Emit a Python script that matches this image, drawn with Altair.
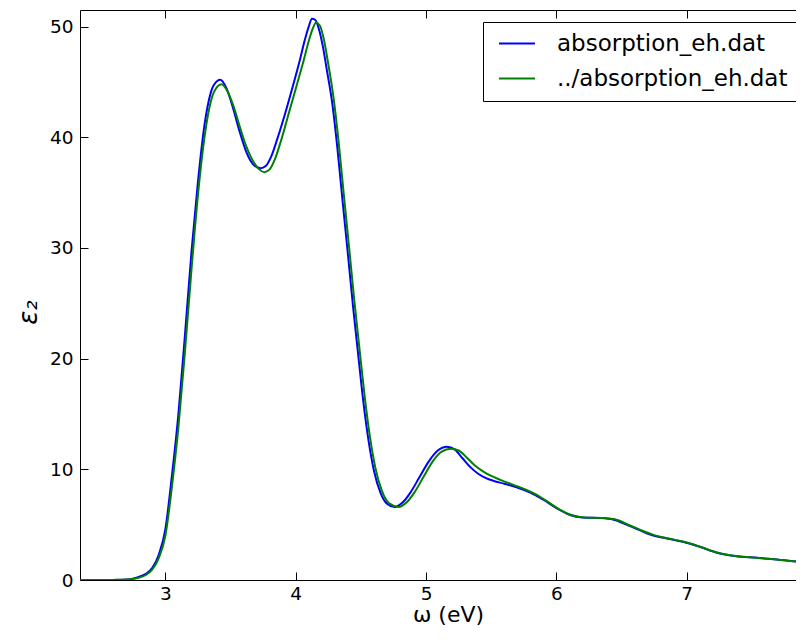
import altair as alt
import pandas as pd

# ---- data ----
series_names = ["absorption_eh.dat", "../absorption_eh.dat"]
series_colors = ["#0000ff", "#008000"]

x_blue = [2.345, 2.5, 2.6, 2.7, 2.75, 2.8, 2.85, 2.9, 2.95, 3.0, 3.05, 3.1, 3.15, 3.2, 3.25,
          3.3, 3.35, 3.4, 3.42, 3.47, 3.52, 3.57, 3.62, 3.67, 3.73, 3.77, 3.81, 3.86, 3.92,
          3.98, 4.03, 4.07, 4.1, 4.125, 4.15, 4.18, 4.21, 4.24, 4.28, 4.32, 4.36, 4.4, 4.44,
          4.48, 4.52, 4.56, 4.6, 4.65, 4.7, 4.76, 4.82, 4.88, 4.95, 5.02, 5.09, 5.16, 5.22,
          5.28, 5.34, 5.4, 5.46, 5.52, 5.6, 5.7, 5.8, 5.9, 6.0, 6.1, 6.2, 6.33, 6.44, 6.55,
          6.64, 6.72, 6.85, 6.97, 7.1, 7.23, 7.35, 7.49, 7.65, 7.8, 7.9]
y_blue = [0.0, 0.0, 0.01, 0.05, 0.12, 0.3, 0.55, 1.1, 2.3, 4.6, 9.4, 15.0, 22.1, 29.6, 36.0,
          41.1, 44.1, 45.1, 45.2, 44.4, 42.6, 40.5, 38.7, 37.6, 37.2, 37.4, 38.2, 39.9, 42.2,
          44.7, 46.9, 48.8, 50.0, 50.7, 50.6, 49.7, 48.1, 46.0, 43.1, 39.0, 34.2, 29.5, 24.7,
          20.3, 16.0, 12.5, 9.9, 7.9, 6.9, 6.6, 7.0, 7.9, 9.3, 10.7, 11.7, 12.05, 11.8,
          11.0, 10.2, 9.6, 9.2, 8.95, 8.7, 8.35, 7.9, 7.25, 6.5, 5.9, 5.65, 5.6, 5.45, 4.95,
          4.5, 4.1, 3.75, 3.45, 3.0, 2.47, 2.2, 2.05, 1.9, 1.72, 1.6]

x_green = [2.345, 2.5, 2.6, 2.7, 2.75, 2.8, 2.85, 2.9, 2.95, 3.0, 3.05, 3.1, 3.15, 3.2, 3.25,
           3.3, 3.35, 3.4, 3.43, 3.47, 3.52, 3.57, 3.62, 3.67, 3.72, 3.76, 3.8, 3.84, 3.89,
           3.95, 4.01, 4.06, 4.1, 4.13, 4.155, 4.185, 4.215, 4.25, 4.29, 4.33, 4.37, 4.41, 4.45,
           4.49, 4.53, 4.57, 4.61, 4.66, 4.72, 4.79, 4.85, 4.91, 4.98, 5.05, 5.12, 5.19, 5.25,
           5.31, 5.37, 5.44, 5.5, 5.57, 5.67, 5.77, 5.85, 5.93, 6.02, 6.12, 6.22, 6.35, 6.46,
           6.57, 6.66, 6.74, 6.86, 6.98, 7.11, 7.24, 7.36, 7.5, 7.65, 7.8, 7.9]
y_green = [0.0, 0.0, 0.01, 0.04, 0.1, 0.22, 0.45, 0.95, 2.0, 4.0, 8.4, 13.8, 20.6, 28.0, 34.8,
           40.0, 43.3, 44.6, 44.8, 44.3, 42.9, 41.0, 39.2, 37.9, 37.1, 36.85, 37.1, 38.0, 39.8,
           42.3, 44.8, 46.9, 48.7, 49.8, 50.35, 50.1, 48.9, 46.6, 43.6, 39.5, 34.7, 30.0, 25.2,
           20.8, 16.5, 12.9, 10.2, 8.1, 6.9, 6.6, 7.0, 7.9, 9.3, 10.7, 11.6, 11.85, 11.7,
           11.1, 10.4, 9.8, 9.4, 9.05, 8.6, 8.15, 7.7, 7.1, 6.4, 5.85, 5.65, 5.6, 5.45,
           4.9, 4.45, 4.1, 3.75, 3.45, 2.98, 2.46, 2.2, 2.04, 1.9, 1.72, 1.6]

x_ticks = [3, 4, 5, 6, 7]
y_ticks = [0, 10, 20, 30, 40, 50]
x_domain = [2.345, 7.8385]
y_domain = [0, 51.5]

df = pd.concat([
    pd.DataFrame({"x": x_blue, "y": y_blue, "series": series_names[0]}),
    pd.DataFrame({"x": x_green, "y": y_green, "series": series_names[1]}),
], ignore_index=True)

W, H = 716, 570
FONT = "DejaVu Sans"

xs = alt.Scale(domain=x_domain, nice=False, zero=False)
ys = alt.Scale(domain=y_domain, nice=False, zero=False)

base = alt.Chart(df)

legend = alt.Legend(
    title=None, orient="none", legendX=403, legendY=12,
    symbolType="stroke", symbolSize=1296, symbolStrokeWidth=2,
    labelFontSize=23, labelFont=FONT, labelColor="black", labelLimit=500,
    labelOffset=21, padding=10, symbolOffset=5, rowPadding=11, clipHeight=23,
    strokeColor="black", fillColor="white", cornerRadius=0,
)
color_enc = alt.Color("series:N",
                      scale=alt.Scale(domain=series_names, range=series_colors),
                      legend=legend)

main_x_axis = alt.Axis(
    orient="bottom", values=x_ticks, format="d", grid=False,
    ticks=False, tickSize=0, domain=True, domainColor="black", domainWidth=1,
    labelFontSize=18.5, labelFont=FONT, labelColor="black", labelPadding=4,
    title="ω (eV)", titleFont=FONT, titleFontSize=22, titleFontWeight="normal",
    titleColor="black", titleX=368, titleY=34, titleBaseline="middle",
)
main_y_axis = alt.Axis(
    orient="left", values=y_ticks, format="d", grid=False,
    ticks=False, tickSize=0, domain=True, domainColor="black", domainWidth=1,
    labelFontSize=18.5, labelFont=FONT, labelColor="black", labelPadding=7,
    title="ε₂", titleFont=FONT, titleFontSize=26, titleFontWeight="normal",
    titleFontStyle="italic", titleColor="black",
    titleX=-52, titleY=302, titleAngle=-90, titleBaseline="middle", titleAlign="center",
)

blue = base.transform_filter(alt.datum.series == series_names[0]).mark_line(
    strokeWidth=2, interpolate="monotone", clip=True
).encode(
    x=alt.X("x:Q", scale=xs, axis=main_x_axis),
    y=alt.Y("y:Q", scale=ys, axis=main_y_axis),
    color=color_enc,
)
green = base.transform_filter(alt.datum.series == series_names[1]).mark_line(
    strokeWidth=2, interpolate="monotone", clip=True
).encode(
    x=alt.X("x:Q", scale=xs, axis=None),
    y=alt.Y("y:Q", scale=ys, axis=None),
    color=alt.Color("series:N", scale=alt.Scale(domain=series_names, range=series_colors)),
)

# inward ticks: bottom (pointing up) and left (pointing right)
ticks_a = base.mark_line(opacity=0).encode(
    x=alt.X("x:Q", scale=xs, axis=alt.Axis(
        orient="top", offset=-H, values=x_ticks, labels=False, domain=False,
        ticks=True, tickSize=8, tickColor="black", tickWidth=1, grid=False, title=None)),
    y=alt.Y("y:Q", scale=ys, axis=alt.Axis(
        orient="right", offset=-W, values=y_ticks, labels=False, domain=False,
        ticks=True, tickSize=8, tickColor="black", tickWidth=1, grid=False, title=None)),
    detail="series:N",
)
# top spine with inward ticks (pointing down)
ticks_b = base.mark_line(opacity=0).encode(
    x=alt.X("x:Q", scale=xs, axis=alt.Axis(
        orient="bottom", offset=-H, values=x_ticks, labels=False, domain=True,
        domainColor="black", domainWidth=1,
        ticks=True, tickSize=8, tickColor="black", tickWidth=1, grid=False, title=None)),
    y=alt.Y("y:Q", scale=ys, axis=None),
    detail="series:N",
)

chart = alt.layer(blue, green, ticks_a, ticks_b).resolve_axis(
    x="independent", y="independent"
).properties(
    width=W, height=H,
    padding={"left": 72, "top": 2, "right": 0, "bottom": 46},
    autosize=alt.AutoSizeParams(type="none"),
    background="white",
).configure_view(stroke=None).configure(font=FONT)

chart.save("out.html", embed_options={"renderer": "svg", "actions": False})
